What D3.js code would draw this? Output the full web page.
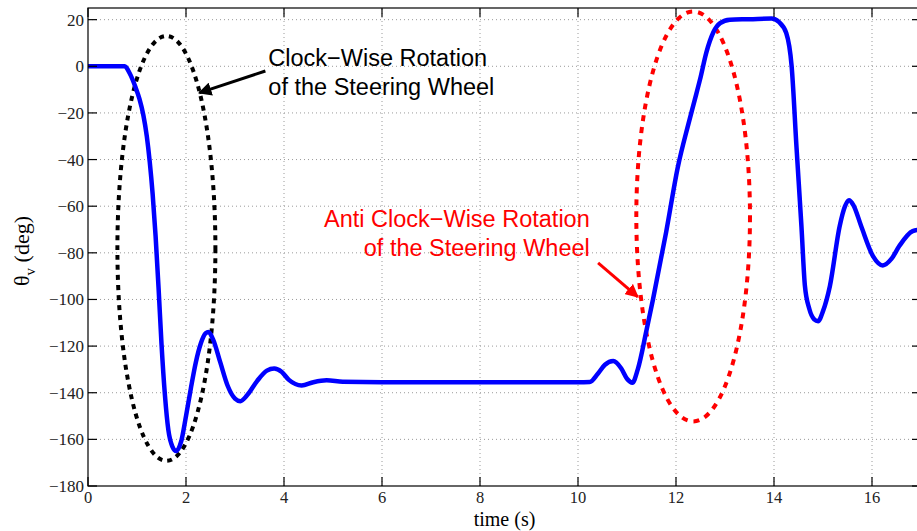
<!DOCTYPE html>
<html>
<head>
<meta charset="utf-8">
<script src="https://cdn.jsdelivr.net/npm/d3@7"></script>
<style>
  body { margin: 0; background: #fff; }
  svg { display: block; }
</style>
</head>
<body>
<script>
// steering wheel angle vs time
var time = [0, 0.5, 0.75, 0.85, 0.97, 1.05, 1.13, 1.20, 1.26, 1.32, 1.38, 1.44, 1.50, 1.57, 1.64, 1.72, 1.80,
  1.90, 2.00, 2.10, 2.20, 2.30, 2.40, 2.46, 2.55, 2.70, 2.85, 3.00, 3.11, 3.25, 3.45, 3.65, 3.80,
  3.95, 4.10, 4.36, 4.60, 4.87, 5.2, 6, 8, 10, 10.24, 10.40, 10.55, 10.72, 10.88, 11.0, 11.11,
  11.22, 11.40, 11.53, 11.80, 12.04, 12.25, 12.38, 12.49, 12.62, 12.76, 12.90, 13.10, 13.50, 13.95,
  14.10, 14.25, 14.36, 14.46, 14.56, 14.63, 14.72, 14.82, 14.90, 15.00, 15.14, 15.34, 15.45, 15.53,
  15.62, 15.78, 16.02, 16.22, 16.40, 16.56, 16.83, 17.0];
var theta = [0, 0, 0, -3, -9, -14, -21, -30, -41, -55, -73, -95, -119, -141, -156, -163, -165,
  -161, -150, -138, -127, -119, -114.5, -114, -117, -127, -137, -142.5, -143.6, -141, -135, -130.5, -129.6,
  -131, -134.5, -136.9, -135.5, -134.7, -135.3, -135.5, -135.5, -135.5, -135.4, -132, -128, -126.4, -129.5, -134, -135.7,
  -130, -113, -100, -71, -43, -25, -14.6, -5.7, 6, 14.5, 18.5, 20, 20.2, 20.5,
  19, 14.3, 0, -35, -68.6, -94, -104, -108.5, -109.3, -105, -94.3, -68.6, -60, -57.4,
  -59.5, -68.6, -81.4, -85.4, -82.5, -77, -70.7, -70];

var xTicks = [0, 2, 4, 6, 8, 10, 12, 14, 16];
var yTicks = [-180, -160, -140, -120, -100, -80, -60, -40, -20, 0, 20];

// annotation ellipses: [centre t, centre deg, half-width s, half-height deg]
var cwEllipse = [1.60, -78.1, 1.00, 91.1];
var acwEllipse = [12.35, -64.4, 1.16, 87.9];

var cwLabel = ["Clock\u2212Wise Rotation", "of the Steering Wheel"];
var acwLabel = ["Anti Clock\u2212Wise Rotation", "of the Steering Wheel"];

var width = 917, height = 531;
var margin = { top: 8, right: -4, bottom: 45, left: 88 };

var svg = d3.select("body").append("svg")
  .attr("width", width)
  .attr("height", height);

var x = d3.scaleLinear().domain([0, 17]).range([margin.left, width - margin.right]);
var y = d3.scaleLinear().domain([-180, 25]).range([height - margin.bottom, margin.top]);

var x0 = x.range()[0], x1 = x.range()[1];
var y0 = y.range()[0], y1 = y.range()[1];

svg.append("defs").append("clipPath").attr("id", "plot")
  .append("rect").attr("x", x0).attr("y", y1).attr("width", x1 - x0).attr("height", y0 - y1);

// dotted grid
var grid = svg.append("g").attr("stroke", "#9a9a9a").attr("stroke-width", 1)
  .attr("stroke-dasharray", "1,3");
grid.selectAll(".vg").data(xTicks.filter(d => d > 0)).join("line")
  .attr("x1", d => x(d)).attr("x2", d => x(d)).attr("y1", y0).attr("y2", y1);
grid.selectAll(".hg").data(yTicks.filter(d => d > -180)).join("line")
  .attr("x1", x0).attr("x2", x1).attr("y1", d => y(d)).attr("y2", d => y(d));

var plot = svg.append("g").attr("clip-path", "url(#plot)");

// dashed ellipses
function ellipse(e, color, dash) {
  plot.append("ellipse")
    .attr("cx", x(e[0])).attr("cy", y(e[1]))
    .attr("rx", x(e[0] + e[2]) - x(e[0])).attr("ry", y(e[1]) - y(e[1] + e[3]))
    .attr("fill", "none").attr("stroke", color).attr("stroke-width", 4)
    .attr("stroke-dasharray", dash);
}
ellipse(cwEllipse, "#000", "5,5");
ellipse(acwEllipse, "#ff0000", "6,6");

// main curve
var pts = time.map((t, i) => [t, theta[i]]);
plot.append("path")
  .datum(pts)
  .attr("fill", "none")
  .attr("stroke", "#0000ff")
  .attr("stroke-width", 4.5)
  .attr("stroke-linejoin", "round")
  .attr("d", d3.line().x(d => x(d[0])).y(d => y(d[1])).curve(d3.curveMonotoneX));

// box + ticks
var axes = svg.append("g").attr("stroke", "#000").attr("stroke-width", 1.2);
axes.append("rect").attr("x", x0).attr("y", y1).attr("width", x1 - x0).attr("height", y0 - y1)
  .attr("fill", "none");
xTicks.forEach(function (d) {
  axes.append("line").attr("x1", x(d)).attr("x2", x(d)).attr("y1", y0).attr("y2", y0 - 9);
  axes.append("line").attr("x1", x(d)).attr("x2", x(d)).attr("y1", y1).attr("y2", y1 + 9);
});
yTicks.forEach(function (d) {
  axes.append("line").attr("x1", x0).attr("x2", x0 + 9).attr("y1", y(d)).attr("y2", y(d));
  axes.append("line").attr("x1", x1).attr("x2", x1 - 9).attr("y1", y(d)).attr("y2", y(d));
});

var serif = "'Liberation Serif', 'Times New Roman', serif";
var fmt = d => (d < 0 ? "\u2212" + Math.abs(d) : "" + d);

svg.append("g").selectAll("text").data(xTicks).join("text")
  .attr("x", d => x(d)).attr("y", y0 + 17)
  .attr("text-anchor", "middle")
  .style("font-family", serif).style("font-size", "16.5px").attr("fill", "#222")
  .text(fmt);

svg.append("g").selectAll("text").data(yTicks).join("text")
  .attr("x", x0 - 4).attr("y", d => y(d) + 6)
  .attr("text-anchor", "end")
  .style("font-family", serif).style("font-size", "17px").attr("fill", "#222")
  .text(fmt);

// axis titles
svg.append("text")
  .attr("x", (x0 + x1) / 2).attr("y", 526)
  .attr("text-anchor", "middle")
  .style("font-family", serif).style("font-size", "20px")
  .text("time (s)");

var yl = svg.append("text")
  .attr("transform", "translate(29," + ((y0 + y1) / 2 + 4) + ") rotate(-90)")
  .attr("text-anchor", "middle")
  .style("font-family", serif).style("font-size", "22px");
yl.append("tspan").text("\u03b8");
yl.append("tspan").attr("dy", 6).style("font-size", "15px").text("v");
yl.append("tspan").attr("dy", -6).text(" (deg)");

// arrows
var defs = svg.select("defs");
function marker(id, color) {
  defs.append("marker").attr("id", id)
    .attr("viewBox", "0 0 10 10").attr("refX", 9).attr("refY", 5)
    .attr("markerWidth", 4.5).attr("markerHeight", 4.5)
    .attr("markerUnits", "strokeWidth").attr("orient", "auto")
    .append("path").attr("d", "M0,0L10,5L0,10z").attr("fill", color);
}
marker("ab", "#000");
marker("ar", "#ff0000");

svg.append("line")
  .attr("x1", x(3.62)).attr("y1", y(-2.0)).attr("x2", x(2.27)).attr("y2", y(-11.4))
  .attr("stroke", "#000").attr("stroke-width", 3).attr("marker-end", "url(#ab)");
svg.append("line")
  .attr("x1", x(10.41)).attr("y1", y(-84.3)).attr("x2", x(11.22)).attr("y2", y(-98.9))
  .attr("stroke", "#ff0000").attr("stroke-width", 3).attr("marker-end", "url(#ar)");

// annotation texts
var sans = "'Liberation Sans', Arial, Helvetica, sans-serif";
svg.append("g").selectAll("text").data(cwLabel).join("text")
  .attr("x", x(3.68)).attr("y", (d, i) => y(0.1) + i * 29)
  .style("font-family", sans).style("font-size", "23.5px").attr("fill", "#000")
  .text(d => d);
svg.append("g").selectAll("text").data(acwLabel).join("text")
  .attr("x", x(10.24)).attr("y", (d, i) => y(-68.9) + i * 29)
  .attr("text-anchor", "end")
  .style("font-family", sans).style("font-size", "23.5px").attr("fill", "#ff0000")
  .text(d => d);
</script>
</body>
</html>
